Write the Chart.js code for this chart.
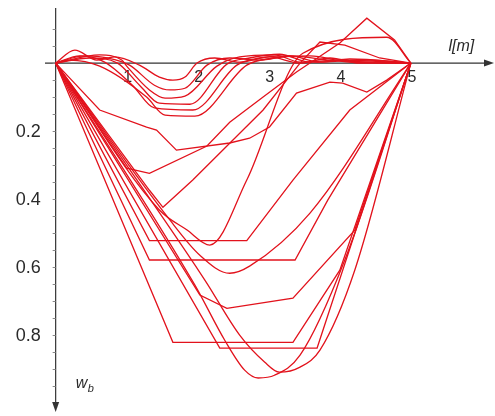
<!DOCTYPE html>
<html>
<head>
<meta charset="utf-8">
<script src="https://cdn.jsdelivr.net/npm/chart.js@4/dist/chart.umd.min.js"></script>
<style>
  html, body { margin: 0; padding: 0; background: #fff; }
  #wrap { width: 495px; height: 416px; position: relative; }
</style>
</head>
<body>
<div id="wrap"><canvas id="chart"></canvas></div>
<script>
// tick labels
const xTicks = [1, 2, 3, 4, 5];
const wTicks = [0.2, 0.4, 0.6, 0.8];

// deflection lines w_b along l [m] (positive = down)
// shallow group
const s1x = [0, 0.27, 0.58, 0.83, 1.18, 1.46, 1.65, 1.82, 1.99, 2.24, 2.59, 3.01, 3.44, 3.86, 4.28, 5];
const s1w = [0, -0.038, -0.009, -0.018, 0.006, 0.041, 0.05, 0.041, 0, -0.015, -0.003, -0.018, 0, -0.015, 0, 0];
const s2x = [0, 0.41, 0.73, 1.04, 1.39, 1.61, 1.82, 2.13, 2.45, 2.87, 3.3, 3.72, 4.14, 5];
const s2w = [0, -0.021, -0.015, 0.006, 0.065, 0.079, 0.074, 0.006, -0.015, -0.009, -0.021, -0.003, -0.012, 0];
const s3x = [0, 0.62, 0.93, 1.0, 1.32, 1.54, 1.82, 2.27, 2.59, 3.08, 3.44, 4.0, 5];
const s3w = [0, -0.024, -0.009, 0.009, 0.079, 0.103, 0.097, 0.009, -0.018, -0.024, -0.003, -0.009, 0];
const s4x = [0, 0.48, 0.87, 1.18, 1.46, 1.89, 2.41, 2.73, 3.15, 3.58, 4.42, 5];
const s4w = [0, -0.015, 0, 0.065, 0.118, 0.121, 0.003, -0.015, -0.026, -0.003, -0.009, 0];
const s5x = [0, 0.34, 0.69, 1.08, 1.39, 1.93, 2.55, 2.87, 3.3, 3.86, 5];
const s5w = [0, -0.021, -0.003, 0.065, 0.132, 0.138, 0.006, -0.015, -0.021, -0.009, 0];
const s6x = [0, 0.2, 0.62, 1.28, 1.54, 1.96, 2.69, 3.08, 3.58, 4.14, 5];
const s6w = [0, -0.009, 0.009, 0.1, 0.153, 0.156, 0.006, -0.015, -0.021, -0.003, 0];
// middle group
const m1x = [0, 0.62, 1.28, 1.42, 1.70, 2.45, 2.73, 3.01, 3.39, 3.86, 4.04, 4.38, 4.66, 5];
const m1w = [0, 0.138, 0.188, 0.197, 0.256, 0.235, 0.221, 0.188, 0.088, 0.056, 0.059, 0.085, 0.05, 0];
const m2x = [0, 1.0, 1.32, 2.13, 2.45, 2.92, 3.39, 4.0, 4.38, 4.77, 5];
const m2w = [0, 0.309, 0.324, 0.244, 0.174, 0.1, 0.026, -0.059, -0.132, -0.068, 0];
const m3x = [0, 1.32, 1.51, 1.93, 2.92, 3.44, 3.72, 4.07, 4.56, 5];
const m3w = [0, 0.374, 0.424, 0.344, 0.138, 0, -0.062, -0.053, -0.015, 0];
const m4x = [0, 1.46, 1.85, 2.17, 2.69, 3.48, 4.66, 5];
const m4w = [0, 0.432, 0.491, 0.535, 0.344, -0.029, -0.076, 0];
// deep group
const d1x = [0, 1.96, 2.38, 2.66, 2.85, 3.08, 3.44, 4.07, 5];
const d1w = [0, 0.653, 0.815, 0.903, 0.926, 0.918, 0.859, 0.579, 0];
const d2x = [0, 2.1, 2.59, 2.94, 3.15, 3.44, 3.72, 4.21, 5];
const d2w = [0, 0.638, 0.8, 0.879, 0.909, 0.894, 0.844, 0.609, 0];
const d4x = [0, 2.31, 3.68, 5];
const d4w = [0, 0.838, 0.838, 0];
const d5x = [0, 1.65, 3.34, 4.0, 5];
const d5w = [0, 0.821, 0.821, 0.609, 0];
const d6x = [0, 2.03, 2.41, 3.34, 4.21, 5];
const d6w = [0, 0.682, 0.721, 0.691, 0.491, 0];
const d7x = [0, 1.32, 3.37, 3.83, 5];
const d7w = [0, 0.579, 0.579, 0.403, 0];
const d8x = [0, 1.32, 2.69, 3.34, 4.14, 5];
const d8w = [0, 0.522, 0.522, 0.344, 0.138, 0];
const d9x = [0, 1.61, 2.03, 2.45, 2.73, 3.58, 5];
const d9w = [0, 0.462, 0.565, 0.618, 0.597, 0.441, 0];

const curves = [
  [s1x, s1w], [s2x, s2w], [s3x, s3w], [s4x, s4w], [s5x, s5w], [s6x, s6w],
  [m1x, m1w], [m2x, m2w], [m3x, m3w], [m4x, m4w],
  [d1x, d1w], [d2x, d2w], [d4x, d4w], [d5x, d5w], [d6x, d6w], [d7x, d7w], [d8x, d8w], [d9x, d9w]
];
// which lines are drawn rounded (same order as curves)
const rounded = [1, 1, 1, 1, 1, 1, 0, 0, 0, 1, 1, 1, 0, 0, 0, 0, 0, 1];

const lineRed = 'rgb(226, 18, 28)';
const axisGray = '#333';

// axes drawn by hand at x=0 / w=0, with arrows
const beamAxes = {
  id: 'beamAxes',
  beforeDatasetsDraw(chart) {
    const { ctx, chartArea, scales: { x, y } } = chart;
    const x0 = x.getPixelForValue(0);
    const y0 = y.getPixelForValue(0);
    ctx.save();
    ctx.strokeStyle = axisGray;
    ctx.fillStyle = axisGray;
    ctx.lineWidth = 1.2;

    // horizontal axis
    ctx.beginPath();
    ctx.moveTo(chartArea.left, y0);
    ctx.lineTo(chartArea.right - 6, y0);
    ctx.stroke();
    ctx.beginPath();
    ctx.moveTo(chartArea.right, y0);
    ctx.lineTo(chartArea.right - 10, y0 - 3.5);
    ctx.lineTo(chartArea.right - 10, y0 + 3.5);
    ctx.closePath();
    ctx.fill();

    // vertical axis (downwards)
    ctx.beginPath();
    ctx.moveTo(x0, chartArea.top);
    ctx.lineTo(x0, chartArea.bottom - 6);
    ctx.stroke();
    ctx.beginPath();
    ctx.moveTo(x0, chartArea.bottom);
    ctx.lineTo(x0 - 3.5, chartArea.bottom - 10);
    ctx.lineTo(x0 + 3.5, chartArea.bottom - 10);
    ctx.closePath();
    ctx.fill();

    // small ticks on the w axis
    ctx.lineWidth = 1;
    ctx.strokeStyle = '#888';
    for (let v = -0.1; v <= 1.0; v += 0.05) {
      const py = Math.round(y.getPixelForValue(v)) + 0.5;
      ctx.beginPath();
      ctx.moveTo(x0 - 3, py);
      ctx.lineTo(x0, py);
      ctx.stroke();
    }

    // tick labels
    ctx.fillStyle = '#2a2a2a';
    ctx.font = '16px "Liberation Sans", Arial, sans-serif';
    ctx.textAlign = 'center';
    ctx.textBaseline = 'middle';
    xTicks.forEach(v => ctx.fillText(String(v), x.getPixelForValue(v) + 1, y0 + 15));
    ctx.font = '18px "Liberation Sans", Arial, sans-serif';
    ctx.textAlign = 'right';
    wTicks.forEach(v => ctx.fillText(v.toFixed(1), x0 - 15, y.getPixelForValue(v) + 1));

    // axis names
    ctx.font = 'italic 16px "Liberation Sans", Arial, sans-serif';
    ctx.textAlign = 'left';
    ctx.fillText('l[m]', x.getPixelForValue(5.53), y0 - 17);
    ctx.fillText('w', x0 + 20, chartArea.bottom - 28);
    ctx.font = 'italic 11px "Liberation Sans", Arial, sans-serif';
    ctx.fillText('b', x0 + 32, chartArea.bottom - 23);
    ctx.restore();
  }
};

new Chart(document.getElementById('chart'), {
  type: 'scatter',
  data: {
    datasets: curves.map(([xs, ws], k) => ({
      data: xs.map((v, i) => ({ x: v, y: ws[i] })),
      showLine: true,
      borderColor: lineRed,
      borderWidth: 1.3,
      pointRadius: 0,
      fill: false,
      cubicInterpolationMode: rounded[k] ? 'monotone' : 'default',
      tension: 0
    }))
  },
  options: {
    responsive: true,
    maintainAspectRatio: false,
    animation: false,
    layout: { padding: { left: 45, right: 1, top: 8, bottom: 4 } },
    plugins: { legend: { display: false }, tooltip: { enabled: false } },
    scales: {
      x: { type: 'linear', display: false, min: -0.15, max: 6.17 },
      y: { type: 'linear', display: false, reverse: true, min: -0.162, max: 1.026 }
    }
  },
  plugins: [beamAxes]
});
</script>
</body>
</html>
